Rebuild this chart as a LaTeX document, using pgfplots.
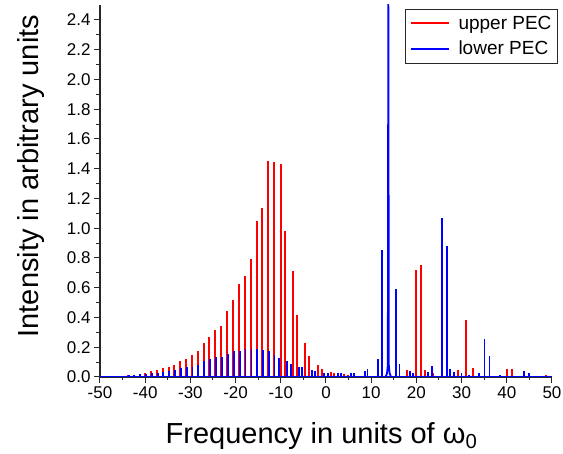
\documentclass[border=0pt]{standalone}
\usepackage{fontspec}
\setmainfont{Liberation Sans}
\usepackage{pgfplots}
\usepackage{pgfplotstable}
\pgfplotsset{compat=1.18}
\definecolor{myred}{RGB}{255,0,0}
\definecolor{myblue}{RGB}{0,0,255}
\definecolor{axisgray}{RGB}{40,40,40}

\pgfplotstableread{
f h
-49.00 0.003
-47.60 0.004
-46.30 0.006
-45.06 0.009
-43.81 0.011
-42.55 0.015
-41.22 0.022
-39.97 0.027
-38.72 0.038
-37.39 0.045
-36.14 0.058
-34.81 0.070
-33.56 0.079
-32.23 0.106
-30.97 0.124
-29.65 0.146
-28.39 0.176
-27.06 0.228
-25.81 0.268
-24.56 0.319
-23.23 0.344
-21.90 0.443
-20.58 0.519
-19.25 0.627
-17.92 0.681
-16.59 0.796
-15.34 1.047
-14.09 1.137
-12.76 1.452
-11.58 1.445
-10.03 1.430
-9.14 0.980
-7.37 0.710
-6.49 0.418
-4.57 0.227
-3.84 0.141
-1.70 0.081
-0.96 0.056
1.11 0.036
1.84 0.025
4.06 0.020
4.79 0.015
7.08 0.010
17.85 0.047
18.58 0.036
19.91 0.721
21.02 0.751
21.98 0.047
23.75 0.030
29.13 0.050
30.97 0.380
32.55 0.061
40.05 0.054
41.15 0.054
48.67 0.012
}\upperdata

\pgfplotstableread{
f h
-47.45 0.005
-46.15 0.007
-44.91 0.010
-43.66 0.012
-42.40 0.015
-41.07 0.020
-39.82 0.022
-38.56 0.025
-37.25 0.029
-36.00 0.036
-34.67 0.043
-33.42 0.050
-32.10 0.061
-30.83 0.065
-29.55 0.070
-28.25 0.083
-26.92 0.106
-25.67 0.119
-24.40 0.133
-23.09 0.133
-21.76 0.157
-20.44 0.175
-19.11 0.177
-17.80 0.187
-16.50 0.185
-15.20 0.187
-13.95 0.180
-12.65 0.173
-11.40 0.150
-10.33 0.128
-8.70 0.110
-7.82 0.090
-6.05 0.067
-5.31 0.065
-3.10 0.050
-2.36 0.043
-0.37 0.030
0.37 0.030
2.58 0.025
3.32 0.025
5.46 0.025
6.27 0.030
8.55 0.040
9.20 0.054
11.58 0.121
12.42 0.856
15.49 0.591
16.25 0.085
18.58 0.040
19.32 0.030
22.64 0.036
23.42 0.076
25.63 1.070
26.75 0.879
27.50 0.054
28.30 0.036
30.00 0.025
31.71 0.015
33.90 0.025
35.06 0.254
36.17 0.142
38.50 0.012
43.81 0.040
45.00 0.030
}\lowerdata

\begin{document}
\begin{tikzpicture}
\path[use as bounding box] (-100pt,-77pt) rectangle (463pt,377pt);
\begin{axis}[
  at={(0,0)}, anchor=south west,
  scale only axis, width=452pt, height=372pt,
  xmin=-50, xmax=50, ymin=0, ymax=2.5,
  axis lines*=left,
  axis line style={line width=1.1pt, draw=axisgray},
  tick align=outside,
  major tick length=6pt, minor tick length=3.5pt,
  every tick/.style={draw=axisgray, line width=1pt},
  xtick={-50,-40,-30,-20,-10,0,10,20,30,40,50},
  minor x tick num=1,
  ytick={0,0.2,0.4,0.6,0.8,1.0,1.2,1.4,1.6,1.8,2.0,2.2,2.4},
  minor y tick num=1,
  /pgf/number format/assume math mode=true,
  ticklabel style={font=\fontsize{17}{20}\selectfont},
  yticklabel style={/pgf/number format/fixed, /pgf/number format/fixed zerofill, /pgf/number format/precision=1},
  xlabel={Frequency in units of ω\textsubscript{0}},
  ylabel={Intensity in arbitrary units},
  xlabel style={font=\fontsize{29}{34}\selectfont, at={(axis description cs:0.49,-0.178)}, anchor=base},
  ylabel style={font=\fontsize{29}{34}\selectfont, at={(axis description cs:-0.137,0.54)}, anchor=base},
  legend image code/.code={\draw[#1] (0pt,0pt) -- (38pt,0pt);},
  legend style={at={(axis description cs:1.013,0.99)}, anchor=north east,
    draw=axisgray, line width=0.8pt, font=\fontsize{19}{22}\selectfont,
    inner xsep=4pt, inner ysep=5pt, row sep=6pt, column sep=7pt},
  legend cell align=left,
]
\addplot[draw=myred, line width=1.4pt, forget plot] coordinates {(-50,0) (50,0)};
\addplot[draw=myred, ycomb, line width=1.8pt, no marks, forget plot] table[x=f, y=h] {\upperdata};
\addplot[draw=myblue, line width=1.4pt, forget plot] coordinates {(-50,0) (50,0)};
\addplot[draw=myblue, ycomb, line width=1.8pt, no marks, forget plot] table[x=f, y=h] {\lowerdata};
\addplot[draw=myblue, line width=1.8pt, forget plot] coordinates {(13.20,0) (13.50,0.025) (13.68,0.08) (13.79,2.60) (13.90,0.08) (14.08,0.025) (14.40,0)};
\addlegendimage{draw=myred, line width=2pt}
\addlegendentry{upper PEC}
\addlegendimage{draw=myblue, line width=2pt}
\addlegendentry{lower PEC}
\end{axis}
\end{tikzpicture}
\end{document}
